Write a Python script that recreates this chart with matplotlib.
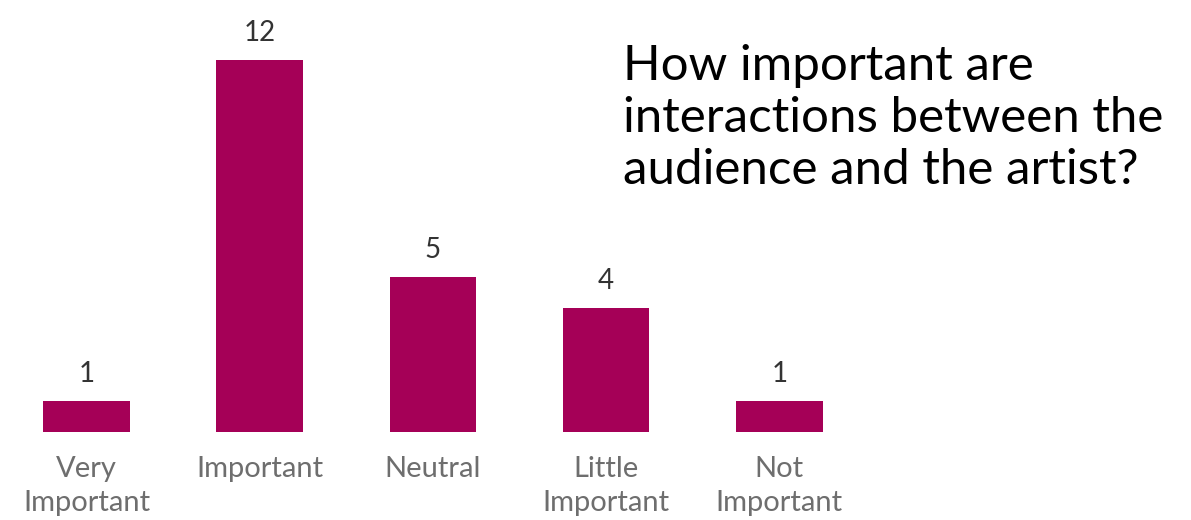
import matplotlib.pyplot as plt

categories = ['Very\nImportant', 'Important', 'Neutral', 'Little\nImportant', 'Not\nImportant']
counts = [1, 12, 5, 4, 1]
question = 'How important are\ninteractions between the\naudience and the artist?'

plt.rcParams['font.family'] = ['Lato', 'DejaVu Sans']

fig = plt.figure(figsize=(11.91, 5.2), dpi=100)
ax = fig.add_axes([0.0, 0.169, 0.727, 0.775])

x = range(len(categories))
bars = ax.bar(x, counts, width=0.5, color='#A50057')
ax.set_xlim(-0.5, 4.5)
ax.set_ylim(0, 13)

for b, v in zip(bars, counts):
    ax.annotate(str(v), (b.get_x() + b.get_width() / 2, v), xytext=(0, 10),
                textcoords='offset points', ha='center', va='bottom',
                fontsize=20, color='#333333')

ax.set_xticks(list(x))
ax.set_xticklabels(categories, fontsize=21, color='#6e6e6e', linespacing=1.4)
ax.tick_params(axis='x', length=0, pad=17)
ax.set_yticks([])
for s in ax.spines.values():
    s.set_visible(False)

fig.text(0.523, 0.915, question, fontsize=35.5, color='black', va='top', ha='left',
         linespacing=1.22)

fig.savefig('out.png', dpi=100)
